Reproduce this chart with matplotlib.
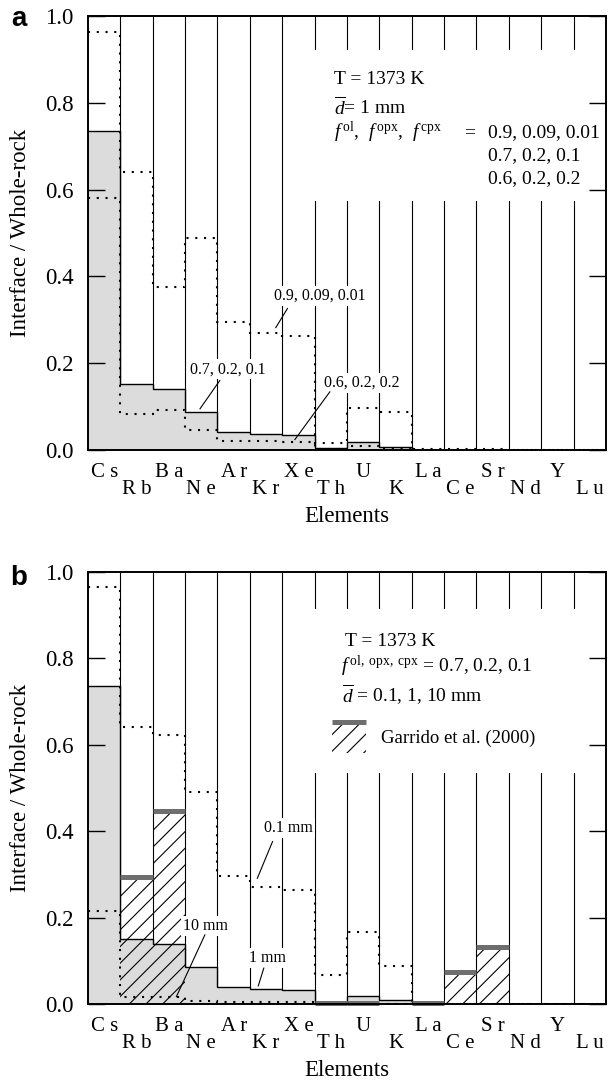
import matplotlib
matplotlib.use('Agg')
import matplotlib.pyplot as plt
import numpy as np
from matplotlib.patches import Rectangle

plt.rcParams['font.family'] = ['Liberation Serif', 'DejaVu Serif']
plt.rcParams['mathtext.fontset'] = 'custom'
plt.rcParams['mathtext.rm'] = 'Liberation Serif'
plt.rcParams['mathtext.it'] = 'Liberation Serif:italic'
plt.rcParams['hatch.linewidth'] = 0.8

# ---------------- data ----------------
elements = ['Cs', 'Rb', 'Ba', 'Ne', 'Ar', 'Kr', 'Xe', 'Th', 'U', 'K',
            'La', 'Ce', 'Sr', 'Nd', 'Y', 'Lu']
yticks = [0.0, 0.2, 0.4, 0.6, 0.8, 1.0]

# panel a: modal compositions f(ol, opx, cpx), d = 1 mm
a_f070 = [0.736, 0.151, 0.141, 0.088, 0.041, 0.036, 0.035, 0.0055, 0.019, 0.007,
          0.001, 0.001, 0.001, 0.001, 0.001, 0.001]
a_f090 = [0.964, 0.640, 0.375, 0.489, 0.296, 0.270, 0.263, 0.016, 0.096, 0.088,
          0.002, 0.002, 0.002, 0.001, 0.001, 0.001]
a_f060 = [0.581, 0.082, 0.093, 0.046, 0.021, 0.020, 0.019, 0.003, 0.009, 0.003,
          0.001, 0.001, 0.001, 0.001, 0.001, 0.001]

# panel b: grain sizes
b_d1 = [0.737, 0.150, 0.140, 0.086, 0.0386, 0.034, 0.0324, 0.0055, 0.0185, 0.0085,
        0.001, 0.001, 0.001, 0.001, 0.001, 0.001]
b_d01 = [0.966, 0.642, 0.623, 0.491, 0.297, 0.270, 0.264, 0.067, 0.167, 0.088,
         0.001, 0.001, 0.001, 0.001, 0.001, 0.001]
b_d10 = [0.216, 0.017, 0.0154, 0.0077, 0.004, 0.004, 0.004, 0.001, 0.002, 0.001,
         0.0005, 0.0005, 0.0005, 0.0005, 0.0005, 0.0005]
garrido = [np.nan, 0.295, 0.447, np.nan, np.nan, np.nan, np.nan, 0.002, 0.002, np.nan,
           0.002, 0.075, 0.133, np.nan, np.nan, np.nan]

GRAY = '#dcdcdc'
DARK = '#6e6e6e'
DOT = (0, (1, 3.2))

fig = plt.figure(figsize=(6.09, 10.86), dpi=100)
axA = fig.add_axes([88/609, (1086-450)/1086, 518/609, 434/1086])
axB = fig.add_axes([88/609, (1086-1004)/1086, 518/609, 432/1086])

edges = np.arange(len(elements) + 1)


def setup(ax, hpx):
    ax.set_xlim(0, len(elements))
    ax.set_ylim(0, 1)
    ax.vlines(edges[1:-1], 0, 1, color='black', lw=0.8, zorder=1)
    ax.set_yticks(yticks)
    ax.set_yticklabels(['%.1f' % t for t in yticks])
    ax.tick_params(axis='y', direction='in', length=12.5, width=1.0, right=True,
                   labelsize=16.5, pad=10.6)
    ax.set_xticks(np.arange(0, 16, 2) + 0.5)
    ax.set_xticklabels([' '.join(e) for e in elements[::2]])
    ax.set_xticks(np.arange(1, 16, 2) + 0.5, minor=True)
    ax.set_xticklabels([' '.join(e) for e in elements[1::2]], minor=True)
    ax.tick_params(axis='x', which='both', length=0, labelsize=15)
    ax.tick_params(axis='x', which='major', pad=9.1)
    ax.tick_params(axis='x', which='minor', pad=21.7)
    ax.xaxis.set_zorder(11)
    ax.yaxis.set_zorder(11)
    for s in ax.spines.values():
        s.set_linewidth(1.4)
        s.set_zorder(10)
    ax.text(-68/518, 0.5, 'Interface / Whole-rock', transform=ax.transAxes,
            rotation=90, ha='center', va='center', fontsize=16.5)
    ax.text(0.5, -67/hpx, 'Elements', transform=ax.transAxes, ha='center',
            va='center', fontsize=16.5)


def note(ax, text, tx, ty, x0, y0, x1, y1):
    ax.text(tx, ty, text, ha='center', va='center', fontsize=11.5, zorder=6,
            bbox=dict(facecolor='white', edgecolor='none', pad=1.5))
    ax.plot([x0, x1], [y0, y1], color='black', lw=0.8, zorder=7)


# ---------------- panel a ----------------
setup(axA, 434)
axA.stairs(a_f070, edges, baseline=0, fill=True, color=GRAY, zorder=2)
axA.stairs(a_f070, edges, baseline=None, color='black', lw=1.0, zorder=3)
axA.stairs(a_f090, edges, baseline=None, color='black', lw=1.5, ls=DOT, zorder=4)
axA.stairs(a_f060, edges, baseline=None, color='black', lw=1.5, ls=DOT, zorder=4)

axA.add_patch(Rectangle((6.93, 0.573), 16 - 6.93, 0.922 - 0.573, facecolor='white',
                        edgecolor='none', zorder=5))
fs = 14
axA.text(7.6, 0.853, 'T = 1373 K', fontsize=fs, va='center', zorder=6)
axA.text(7.6, 0.790, r'$\overline{d}$= 1 mm', fontsize=fs, va='center', zorder=6)
axA.text(7.6, 0.732, r'$f^{\,\mathrm{ol}}$,  $f^{\,\mathrm{opx}}$,  $f^{\,\mathrm{cpx}}$',
         fontsize=fs, va='center', zorder=6)
axA.text(11.6, 0.732, '=', fontsize=fs, va='center', zorder=6)
axA.text(12.35, 0.732, '0.9, 0.09, 0.01', fontsize=fs, va='center', zorder=6)
axA.text(12.35, 0.679, '0.7, 0.2, 0.1', fontsize=fs, va='center', zorder=6)
axA.text(12.35, 0.625, '0.6, 0.2, 0.2', fontsize=fs, va='center', zorder=6)

note(axA, '0.9, 0.09, 0.01', 7.16, 0.355, 6.16, 0.326, 5.80, 0.282)
note(axA, '0.7, 0.2, 0.1', 4.31, 0.186, 4.07, 0.160, 3.46, 0.095)
note(axA, '0.6, 0.2, 0.2', 8.47, 0.155, 7.47, 0.134, 6.39, 0.024)

# ---------------- panel b ----------------
setup(axB, 432)
axB.stairs(b_d1, edges, baseline=0, fill=True, color=GRAY, zorder=2)
axB.stairs(b_d1, edges, baseline=None, color='black', lw=1.0, zorder=3)
g = np.array(garrido)
idx = np.arange(len(elements)) + 0.5
m = ~np.isnan(g)
axB.bar(idx[m], g[m], width=1.0, fill=False, hatch='//', edgecolor='black',
        linewidth=0, zorder=3.5)
axB.hlines(g[m], idx[m] - 0.5, idx[m] + 0.5, color=DARK, lw=3.6, zorder=4.5,
           clip_on=False)
axB.stairs(b_d01, edges, baseline=None, color='black', lw=1.5, ls=DOT, zorder=4)
axB.stairs(b_d10, edges, baseline=None, color='black', lw=1.5, ls=DOT, zorder=4)

axB.add_patch(Rectangle((6.95, 0.535), 16 - 6.95, 0.915 - 0.535, facecolor='white',
                        edgecolor='none', zorder=5))
axB.text(7.93, 0.839, 'T = 1373 K', fontsize=fs, va='center', zorder=6)
axB.text(7.83, 0.781, r'$f^{\,\mathrm{ol,\ opx,\ cpx}}$ = 0.7, 0.2, 0.1', fontsize=fs,
         va='center', zorder=6)
axB.text(7.85, 0.715, r'$\overline{d}$ = 0.1, 1, 10 mm', fontsize=fs, va='center',
         zorder=6)
axB.add_patch(Rectangle((7.55, 0.581), 1.03, 0.07, fill=False, hatch='//',
                        edgecolor='black', linewidth=0, zorder=6))
axB.plot([7.55, 8.58], [0.652, 0.652], color=DARK, lw=3.6, zorder=7,
         solid_capstyle='butt')
axB.text(9.06, 0.616, 'Garrido et al. (2000)', fontsize=13.5, va='center', zorder=6)

note(axB, '0.1 mm', 6.18, 0.407, 5.70, 0.376, 5.23, 0.291)
note(axB, '10 mm', 3.62, 0.181, 3.61, 0.160, 2.73, 0.017)
note(axB, '1 mm', 5.53, 0.107, 5.43, 0.083, 5.26, 0.042)

fig.text(19/609, 1 - 26/1086, 'a', fontsize=20, fontweight='bold',
         family='Liberation Sans', ha='center', va='baseline')
fig.text(19/609, 1 - 585/1086, 'b', fontsize=20, fontweight='bold',
         family='Liberation Sans', ha='center', va='baseline')

fig.savefig('out.png', dpi=100)
